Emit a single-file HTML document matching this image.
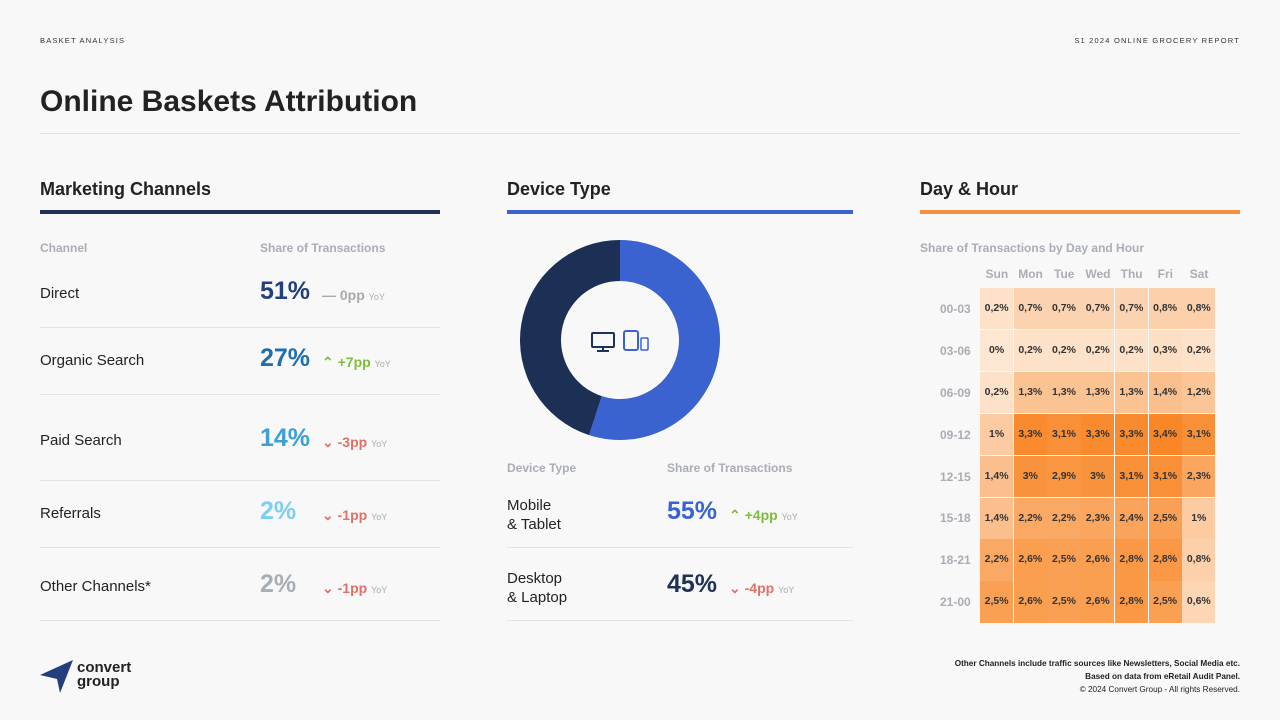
<!DOCTYPE html>
<html><head><meta charset="utf-8"><style>
body{margin:0;width:1280px;height:720px;background:#f8f8f8;font-family:"Liberation Sans",sans-serif;position:relative;overflow:hidden;color:#222}
.a{position:absolute;white-space:nowrap}
.sm{font-size:7.5px;letter-spacing:1.2px;color:#333}
.h2{font-size:18px;font-weight:bold;color:#222}
.lbl{font-size:12px;font-weight:bold;color:#a9adb5}
.row{font-size:15px;color:#222}
.big{font-size:25px;font-weight:bold}
.ch{font-size:14px;font-weight:bold}
.yoy{font-size:9px;color:#aaa;font-weight:normal}
.sep{position:absolute;height:1px;background:#e3e3e3}
</style></head><body>
<div class="a sm" style="left:40px;top:36px">BASKET ANALYSIS</div>
<div class="a sm" style="right:40px;top:36px">S1 2024 ONLINE GROCERY REPORT</div>
<div class="a" style="left:40px;top:85px;font-size:30px;font-weight:bold">Online Baskets Attribution</div>
<div class="sep" style="left:40px;top:133px;width:1200px;background:#d9e0ea"></div>

<div class="a h2" style="left:40px;top:179px">Marketing Channels</div>
<div class="a" style="left:40px;top:210px;width:400px;height:4px;background:#1f3157"></div>
<div class="a lbl" style="left:40px;top:241px">Channel</div>
<div class="a lbl" style="left:260px;top:241px">Share of Transactions</div>
<div id="mc"></div>

<div class="a h2" style="left:507px;top:179px">Device Type</div>
<div class="a" style="left:507px;top:210px;width:346px;height:4px;background:#3a63cf"></div>
<svg class="a" style="left:500px;top:220px" width="240" height="240" id="donut"></svg>
<div class="a lbl" style="left:507px;top:461px">Device Type</div>
<div class="a lbl" style="left:667px;top:461px">Share of Transactions</div>
<div id="dv"></div>

<div class="a h2" style="left:920px;top:179px">Day &amp; Hour</div>
<div class="a" style="left:920px;top:210px;width:320px;height:4px;background:#f5913e"></div>
<div class="a lbl" style="left:920px;top:241px">Share of Transactions by Day and Hour</div>
<div id="hm"></div>

<svg class="a" style="left:40px;top:658px" width="34" height="36"><polygon points="0,17 33,2 20,35 17,21" fill="#243f7e"/></svg>
<div class="a" style="left:77px;top:661px;font-size:15px;font-weight:bold;line-height:14px">convert<br>group</div>
<div class="a" style="right:40px;top:657px;text-align:right;font-size:8.2px;line-height:13px;color:#222"><b>Other Channels include traffic sources like Newsletters, Social Media etc.<br>Based on data from eRetail Audit Panel.</b><br>© 2024 Convert Group - All rights Reserved.</div>

<script>
const channels=["Direct","Organic Search","Paid Search","Referrals","Other Channels*"];
const shares=[51,27,14,2,2];
const changes=[0,7,-3,-1,-1];
const shareColors=["#243f7e","#1f6fae","#3aa0d5","#7dcff0","#a9adb5"];
const rowY=[294,361,441,514,587];
const sepY=[327,394,480,547,620];
const devices=["Mobile<br>& Tablet","Desktop<br>& Laptop"];
const devShares=[55,45];
const devChanges=[4,-4];
const days=["Sun","Mon","Tue","Wed","Thu","Fri","Sat"];
const hours=["00-03","03-06","06-09","09-12","12-15","15-18","18-21","21-00"];
const heat=[
[0.2,0.7,0.7,0.7,0.7,0.8,0.8],
[0,0.2,0.2,0.2,0.2,0.3,0.2],
[0.2,1.3,1.3,1.3,1.3,1.4,1.2],
[1,3.3,3.1,3.3,3.3,3.4,3.1],
[1.4,3,2.9,3,3.1,3.1,2.3],
[1.4,2.2,2.2,2.3,2.4,2.5,1],
[2.2,2.6,2.5,2.6,2.8,2.8,0.8],
[2.5,2.6,2.5,2.6,2.8,2.5,0.6]];

function chg(v){
  if(v>0) return ['<span style="color:#7bbf3f">&#8963; +'+v+'pp</span>','#7bbf3f'];
  if(v<0) return ['<span style="color:#e0706a">&#8964; '+v+'pp</span>','#e0706a'];
  return ['<span style="color:#aaa">— 0pp</span>','#aaa'];
}
function mk(parent,html,style,name,cls){
  const d=document.createElement('div');d.className='a '+(cls||'');d.style.cssText=style;d.innerHTML=html;
  
  
  parent.appendChild(d);return d;
}
const mc=document.getElementById('mc');
channels.forEach((c,i)=>{
  mk(mc,c,'left:40px;top:'+(rowY[i]-9)+'px','channel-name','row');
  mk(mc,shares[i]+'%','left:260px;top:'+(rowY[i]-17)+'px;color:'+shareColors[i],'channel-share','big');
  mk(mc,chg(changes[i])[0]+' <span class="yoy">YoY</span>','left:322px;top:'+(rowY[i]-7)+'px','channel-change','ch');
  mk(mc,'','left:40px;top:'+sepY[i]+'px;width:400px;height:1px;background:#e3e3e3','row-separator','');
});
const dv=document.getElementById('dv');
const dY=[514,587],dS=[547,620];
devices.forEach((c,i)=>{
  mk(dv,c,'left:507px;top:'+(dY[i]-18)+'px;line-height:19px','device-name','row');
  mk(dv,devShares[i]+'%','left:667px;top:'+(dY[i]-17)+'px;color:'+(i?'#1f3157':'#3a63cf'),'device-share','big');
  mk(dv,chg(devChanges[i])[0]+' <span class="yoy">YoY</span>','left:729px;top:'+(dY[i]-7)+'px','device-change','ch');
  mk(dv,'','left:507px;top:'+dS[i]+'px;width:346px;height:1px;background:#e3e3e3','row-separator','');
});
const svg=document.getElementById('donut');const ns='http://www.w3.org/2000/svg';
const cx=120,cy=120,R=100,r=59;let a0=-Math.PI/2;
const dcol=['#3a63cf','#1c2f55'];
devShares.forEach((v,i)=>{
  const a1=a0+v/100*2*Math.PI;const lg=(a1-a0)>Math.PI?1:0;
  const p=document.createElementNS(ns,'path');
  const P=(rad,a)=>(cx+rad*Math.cos(a))+','+(cy+rad*Math.sin(a));
  p.setAttribute('d','M'+P(R,a0)+' A'+R+','+R+' 0 '+lg+' 1 '+P(R,a1)+' L'+P(r,a1)+' A'+r+','+r+' 0 '+lg+' 0 '+P(r,a0)+'Z');
  p.setAttribute('fill',dcol[i]);
  
  
  svg.appendChild(p);a0=a1;
});
svg.insertAdjacentHTML('beforeend','<g><rect x="92" y="113" width="22" height="14" rx="1" fill="none" stroke="#1f3157" stroke-width="2"/><line x1="103" y1="127" x2="103" y2="131" stroke="#1f3157" stroke-width="2"/><line x1="97" y1="131" x2="109" y2="131" stroke="#1f3157" stroke-width="2"/><rect x="124" y="111" width="14" height="19" rx="2" fill="none" stroke="#3a63cf" stroke-width="2"/><rect x="141" y="118" width="7" height="12" rx="1" fill="none" stroke="#3a63cf" stroke-width="1.5"/></g>');
const hm=document.getElementById('hm');
const x0=980,cw=33.7,y0=288,rh=41.9,vmax=3.4;
function col(v){const t=v/vmax;const c0=[253,231,211],c1=[249,135,40];
  return 'rgb('+c0.map((c,k)=>Math.round(c+(c1[k]-c)*t)).join(',')+')';}
days.forEach((d,j)=>mk(hm,d,'left:'+(x0+j*cw)+'px;width:'+cw+'px;text-align:center;top:267px;font-size:12px;font-weight:bold;color:#a9adb5','day-label',''));
hours.forEach((h,i)=>{
  mk(hm,h,'left:940px;top:'+(y0+i*rh+rh/2-7)+'px;font-size:12px;font-weight:bold;color:#a9adb5','hour-label','');
  heat[i].forEach((v,j)=>{
    mk(hm,String(v).replace('.',',')+'%','left:'+(x0+j*cw)+'px;top:'+(y0+i*rh)+'px;width:'+(cw-0.5)+'px;height:'+(rh-0.5)+'px;line-height:'+rh+'px;text-align:center;font-size:10.5px;font-weight:bold;color:#333;background:'+col(v),'heatmap-cell','');
  });
});
</script>
</body></html>
